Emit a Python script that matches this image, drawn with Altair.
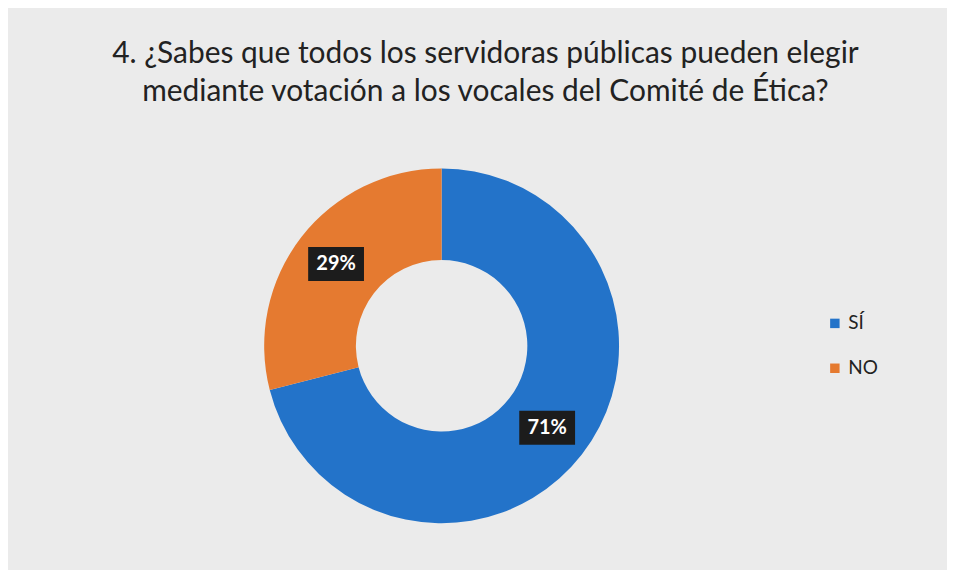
import altair as alt
import pandas as pd

categories = ["SÍ", "NO"]
values = [71, 29]
labels = ["71%", "29%"]
colors = ["#2373c9", "#e57a30"]
title_lines = [
    "4. ¿Sabes que todos los servidoras públicas pueden elegir",
    "mediante votación a los vocales del Comité de Ética?",
]

W, H = 870, 448
LABEL_R = 134
BOX_W, BOX_H = 56, 34

df = pd.DataFrame({
    "cat": categories,
    "val": values,
    "lab": labels,
    "idx": list(range(len(categories))),
})

base = alt.Chart(df).encode(
    theta=alt.Theta("val:Q", stack=True),
    order=alt.Order("idx:Q"),
)

arc = base.mark_arc(innerRadius=86, outerRadius=178).encode(
    color=alt.Color(
        "cat:N",
        scale=alt.Scale(domain=categories, range=colors),
        sort=categories,
        legend=alt.Legend(
            title=None,
            orient="none",
            legendX=820,
            legendY=192,
            symbolType="square",
            symbolSize=90,
            labelFont="Lato",
            labelFontSize=19,
            labelColor="#222222",
            rowPadding=25,
            symbolStrokeWidth=0,
        ),
    )
)

xs = alt.Scale(domain=[-W / 2, W / 2], nice=False, zero=False)
ys = alt.Scale(domain=[-H / 2, H / 2], nice=False, zero=False)

box = (
    alt.Chart(df)
    .transform_joinaggregate(total="sum(val)")
    .transform_window(cum="sum(val)", sort=[alt.SortField("idx")], frame=[None, 0])
    .transform_calculate(
        mid="(datum.cum - datum.val / 2) / datum.total * 2 * PI",
    )
    .transform_calculate(
        x1=f"{LABEL_R} * sin(datum.mid) - {BOX_W / 2}",
        x2=f"{LABEL_R} * sin(datum.mid) + {BOX_W / 2}",
        y1=f"{LABEL_R} * cos(datum.mid) - {BOX_H / 2}",
        y2=f"{LABEL_R} * cos(datum.mid) + {BOX_H / 2}",
    )
    .mark_rect(color="#1c1c1c")
    .encode(
        x=alt.X("x1:Q", scale=xs, axis=None),
        x2="x2:Q",
        y=alt.Y("y1:Q", scale=ys, axis=None),
        y2="y2:Q",
    )
)

text = base.mark_text(
    radius=LABEL_R, font="Lato", fontWeight="bold", fontSize=20, color="white"
).encode(text="lab:N")

chart = (
    alt.layer(arc, box, text)
    .properties(
        width=W,
        height=H,
        padding={"top": 30, "left": 0, "right": 69, "bottom": 0},
        background="#ebebeb",
        title=alt.TitleParams(
            text=title_lines,
            font="Lato",
            fontSize=30,
            fontWeight="normal",
            color="#222222",
            lineHeight=38,
            anchor="middle",
            dx=44,
            offset=16,
        ),
    )
    .configure_view(stroke=None)
)

chart.save("out.html", embed_options={"renderer": "svg", "actions": False})
